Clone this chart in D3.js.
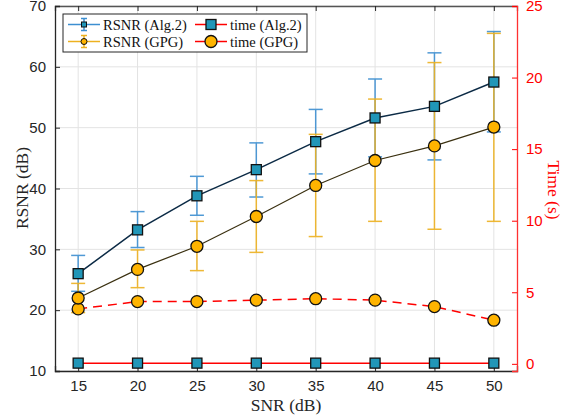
<!DOCTYPE html>
<html>
<head>
<meta charset="utf-8">
<script src="https://d3js.org/d3.v7.min.js"></script>
<style>
  body { margin: 0; background: #fff; }
  .tick text { font-family: "Liberation Sans", Arial, sans-serif; font-size: 15px; }
  .lbl { font-family: "Liberation Serif"; font-size: 17.5px; }
  .leg { font-family: "Liberation Serif"; font-size: 14.5px; }
</style>
</head>
<body>
<svg id="chart" width="563" height="419"></svg>
<script>
// data
const snr = [15, 20, 25, 30, 35, 40, 45, 50];
const rsnrAlg2 = [26.0, 33.2, 38.8, 43.1, 47.7, 51.6, 53.5, 57.5];
const rsnrAlg2Hi = [29.0, 36.2, 42.0, 47.5, 53.0, 58.0, 62.3, 65.8];
const rsnrAlg2Lo = [23.1, 30.3, 35.6, 38.6, 42.4, 45.2, 44.7, 49.3];
const rsnrGpg = [22.0, 26.7, 30.5, 35.4, 40.5, 44.6, 47.0, 50.1];
const rsnrGpgHi = [24.4, 29.9, 34.6, 41.3, 48.9, 54.7, 60.7, 65.5];
const rsnrGpgLo = [19.6, 23.7, 26.5, 29.5, 32.1, 34.6, 33.3, 34.6];
const timeAlg2 = [0.05, 0.05, 0.05, 0.05, 0.05, 0.05, 0.05, 0.05];
const timeGpg = [3.84, 4.35, 4.35, 4.45, 4.55, 4.45, 4.0, 3.05];
const leftTicks = [10, 20, 30, 40, 50, 60, 70];
const rightTicks = [0, 5, 10, 15, 20, 25];

const svg = d3.select("#chart");
const margin = { top: 6, right: 46, bottom: 48, left: 55 };
const width = 563 - margin.left - margin.right;
const height = 419 - margin.top - margin.bottom;
const g = svg.append("g").attr("transform", "translate(" + margin.left + "," + margin.top + ")");

const x = d3.scaleLinear().domain([13.05, 51.95]).range([0, width]);
const yL = d3.scaleLinear().domain([10, 70]).range([height, 0]);
const yR = d3.scaleLinear().domain([-0.5, 25]).range([height, 0]);

// grid
g.selectAll("line.vgrid").data(snr).join("line").attr("class", "vgrid")
  .attr("x1", d => x(d)).attr("x2", d => x(d)).attr("y1", 0).attr("y2", height)
  .attr("stroke", "#e3e3e3");
g.selectAll("line.hgrid").data(leftTicks).join("line").attr("class", "hgrid")
  .attr("x1", 0).attr("x2", width).attr("y1", d => yL(d)).attr("y2", d => yL(d))
  .attr("stroke", "#e3e3e3");

// axes
const axColor = "#262626";
const xAxis = g.append("g").attr("transform", "translate(0," + height + ")")
  .call(d3.axisBottom(x).tickValues(snr).tickSize(-5).tickPadding(9));
const xTop = g.append("g").call(d3.axisTop(x).tickValues(snr).tickSize(-5).tickFormat(""));
const yAxis = g.append("g").call(d3.axisLeft(yL).tickValues(leftTicks).tickSize(-5).tickPadding(9));
const rAxis = g.append("g").attr("transform", "translate(" + width + ",0)")
  .call(d3.axisRight(yR).tickValues(rightTicks).tickSize(-5).tickPadding(9));
[xAxis, xTop, yAxis].forEach(a => {
  a.select(".domain").attr("stroke", axColor).attr("stroke-width", 1.3);
  a.selectAll(".tick line").attr("stroke", axColor);
  a.selectAll(".tick text").attr("fill", axColor);
});
xTop.select(".domain").attr("stroke", "#555");
rAxis.select(".domain").attr("stroke", "#ff3030").attr("stroke-width", 1.3);
rAxis.selectAll(".tick line").attr("stroke", "#ff0000");
rAxis.selectAll(".tick text").attr("fill", "#ff0000");

// labels
svg.append("text").attr("class", "lbl").attr("x", 286).attr("y", 411)
  .attr("text-anchor", "middle").attr("fill", axColor).text("SNR (dB)");
svg.append("text").attr("class", "lbl").attr("transform", "translate(28,188) rotate(-90)")
  .attr("text-anchor", "middle").attr("fill", axColor).text("RSNR (dB)");
svg.append("text").attr("class", "lbl").attr("transform", "translate(548,190) rotate(90)")
  .attr("text-anchor", "middle").attr("fill", "#ff0000").text("Time (s)");

const alg2Err = "#3d8fd1", gpgErr = "#edb120";
const alg2Fill = "#2196b8", gpgFill = "#ffb400";

function errorBars(cls, lo, hi, color) {
  const data = snr.map((d, i) => ({ x: d, lo: lo[i], hi: hi[i] }));
  const eg = g.append("g").attr("stroke", color).attr("stroke-width", 1.5).attr("opacity", 0.9);
  eg.selectAll("line.v" + cls).data(data).join("line")
    .attr("x1", d => x(d.x)).attr("x2", d => x(d.x)).attr("y1", d => yL(d.lo)).attr("y2", d => yL(d.hi));
  ["lo", "hi"].forEach(k => {
    eg.selectAll("line." + k + cls).data(data).join("line")
      .attr("x1", d => x(d.x) - 7).attr("x2", d => x(d.x) + 7)
      .attr("y1", d => yL(d[k])).attr("y2", d => yL(d[k]));
  });
}
errorBars("a", rsnrAlg2Lo, rsnrAlg2Hi, alg2Err);
errorBars("g", rsnrGpgLo, rsnrGpgHi, gpgErr);

function line(vals, scale, color, dash, w) {
  g.append("path").datum(snr.map((d, i) => [d, vals[i]]))
    .attr("fill", "none").attr("stroke", color).attr("stroke-width", w)
    .attr("stroke-dasharray", dash)
    .attr("d", d3.line().x(d => x(d[0])).y(d => scale(d[1])));
}
function squares(vals, scale, s) {
  g.append("g").selectAll("rect").data(snr.map((d, i) => [d, vals[i]])).join("rect")
    .attr("x", d => x(d[0]) - s / 2).attr("y", d => scale(d[1]) - s / 2)
    .attr("width", s).attr("height", s)
    .attr("fill", alg2Fill).attr("stroke", "#111").attr("stroke-width", 1.3);
}
function circles(vals, scale, r) {
  g.append("g").selectAll("circle").data(snr.map((d, i) => [d, vals[i]])).join("circle")
    .attr("cx", d => x(d[0])).attr("cy", d => scale(d[1])).attr("r", r)
    .attr("fill", gpgFill).attr("stroke", "#111").attr("stroke-width", 1.3);
}

line(timeAlg2, yR, "#ff0000", null, 1.5);
line(timeGpg, yR, "#ff0000", "9,6", 1.5);
line(rsnrAlg2, yL, "#0b2a45", null, 1.5);
line(rsnrGpg, yL, "#3a3010", null, 1.2);
squares(timeAlg2, yR, 10);
circles(timeGpg, yR, 6);
squares(rsnrAlg2, yL, 10);
circles(rsnrGpg, yL, 6);

// legend
const lg = svg.append("g").attr("transform", "translate(63,14)");
lg.append("rect").attr("width", 244).attr("height", 38).attr("fill", "#fff").attr("stroke", "#262626");
const items = [
  { label: "RSNR (Alg.2)", col: 0, row: 0, color: alg2Err, marker: "sq", small: true },
  { label: "RSNR (GPG)", col: 0, row: 1, color: gpgErr, marker: "ci", small: true },
  { label: "time (Alg.2)", col: 1, row: 0, color: "#ff0000", marker: "sq", small: false },
  { label: "time (GPG)", col: 1, row: 1, color: "#ff0000", marker: "ci", small: false }
];
items.forEach(it => {
  const ox = it.col === 0 ? 5 : 132, oy = it.row === 0 ? 10.5 : 27.5;
  const cx = ox + 16;
  lg.append("line").attr("x1", ox).attr("x2", ox + 32).attr("y1", oy).attr("y2", oy)
    .attr("stroke", it.color).attr("stroke-width", 1.5);
  if (it.small) {
    lg.append("line").attr("x1", cx).attr("x2", cx).attr("y1", oy - 6).attr("y2", oy + 6).attr("stroke", it.color).attr("stroke-width", 1.5);
    [-6, 6].forEach(dy => lg.append("line").attr("x1", cx - 3).attr("x2", cx + 3).attr("y1", oy + dy).attr("y2", oy + dy).attr("stroke", it.color).attr("stroke-width", 1.5));
  }
  const s = it.small ? 5 : 10;
  if (it.marker === "sq") {
    lg.append("rect").attr("x", cx - s / 2).attr("y", oy - s / 2).attr("width", s).attr("height", s)
      .attr("fill", alg2Fill).attr("stroke", "#111").attr("stroke-width", it.small ? 1 : 1.3);
  } else {
    lg.append("circle").attr("cx", cx).attr("cy", oy).attr("r", it.small ? 3 : 6)
      .attr("fill", gpgFill).attr("stroke", "#111").attr("stroke-width", it.small ? 1 : 1.3);
  }
  lg.append("text").attr("class", "leg").attr("x", ox + 35).attr("y", oy + 5)
    .attr("fill", "#111").text(it.label);
});
</script>
</body>
</html>
